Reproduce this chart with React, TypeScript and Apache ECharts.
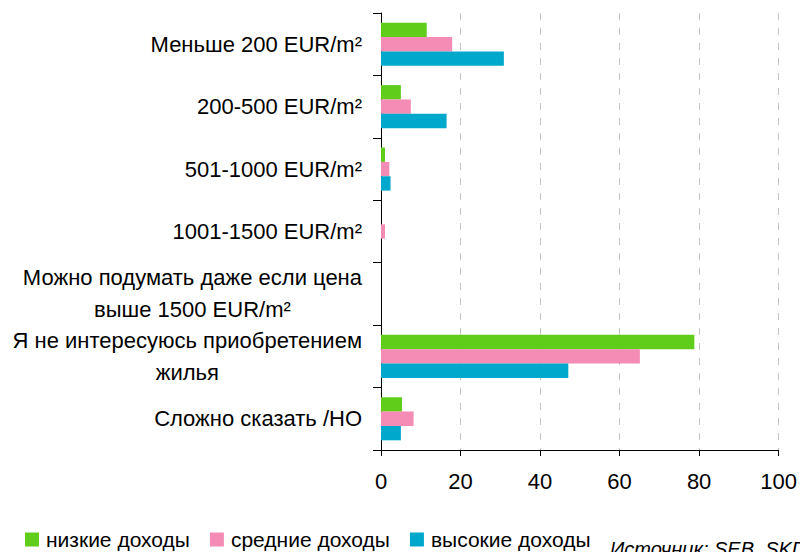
import React, { useEffect, useRef } from "react";
import * as echarts from "echarts";

const categories = [
  "Меньше 200 EUR/m²",
  "200-500 EUR/m²",
  "501-1000 EUR/m²",
  "1001-1500 EUR/m²",
  "Можно подумать даже если цена\nвыше 1500 EUR/m²",
  "Я не интересуюсь приобретением\nжилья",
  "Сложно сказать /НО",
];
const seriesNames = ["низкие доходы", "средние доходы", "высокие доходы"];
const lowIncome = [11.5, 5.0, 1.0, 0, 0, 78.8, 5.3];
const midIncome = [17.9, 7.5, 2.1, 1.0, 0, 65.1, 8.2];
const highIncome = [30.9, 16.5, 2.4, 0, 0, 47.1, 5.0];
const xTicks = [0, 20, 40, 60, 80, 100];
const sourceText = "Источник: SEB, SKDS";

const colors = ["#60CD1A", "#F48CB5", "#00A8CC"];
const FONT = "'Liberation Sans', Arial, sans-serif";

export default function App() {
  const ref = useRef<HTMLDivElement>(null);
  useEffect(() => {
    if (!ref.current) return;
    const chart = echarts.init(ref.current, null, { renderer: "svg" });
    const values = [lowIncome, midIncome, highIncome];
    chart.setOption({
      animation: false,
      color: colors,
      grid: { left: 381, right: 21, top: 13, bottom: 102 },
      legend: {
        left: 25,
        top: 529,
        padding: 0,
        itemGap: 20,
        itemWidth: 14,
        itemHeight: 14,
        icon: "rect",
        data: seriesNames,
        textStyle: { fontFamily: FONT, fontSize: 21, color: "#000", padding: [0, 0, 0, 2] },
      },
      xAxis: {
        type: "value",
        min: xTicks[0],
        max: xTicks[xTicks.length - 1],
        interval: 20,
        axisLine: { show: true, lineStyle: { color: "#000", width: 1 } },
        axisTick: { show: true, length: 6, lineStyle: { color: "#000" } },
        axisLabel: { fontFamily: FONT, fontSize: 22, color: "#000", margin: 20 },
        splitLine: { show: true, lineStyle: { color: "#c4c4c4", type: [7, 8], width: 1 } },
      },
      yAxis: {
        type: "category",
        inverse: true,
        data: categories,
        axisLine: { show: true, lineStyle: { color: "#000", width: 1 } },
        axisTick: { show: true, length: 8, lineStyle: { color: "#000" } },
        axisLabel: {
          margin: 19,
          fontFamily: FONT,
          fontSize: 22,
          color: "#000",
          lineHeight: 32,
          formatter: (v: string) =>
            v
              .split("\n")
              .map((s) => "{c|" + s + "}")
              .join("\n"),
          rich: {
            c: { align: "center", fontFamily: FONT, fontSize: 22, color: "#000", lineHeight: 32 },
          },
        },
        splitLine: { show: false },
      },
      series: seriesNames.map((name, i) => ({
        name,
        type: "bar",
        data: values[i],
        barGap: "0%",
        barCategoryGap: "31%",
        itemStyle: { color: colors[i] },
      })),
      graphic: [
        {
          type: "text",
          left: 610,
          top: 539,
          style: {
            text: sourceText,
            font: "italic 20px 'Liberation Sans', Arial, sans-serif",
            fill: "#000",
          },
        },
      ],
    });
    return () => chart.dispose();
  }, []);
  return (
    <div
      ref={ref}
      style={{ position: "fixed", left: 0, top: 0, width: 800, height: 552, background: "#fff" }}
    />
  );
}
